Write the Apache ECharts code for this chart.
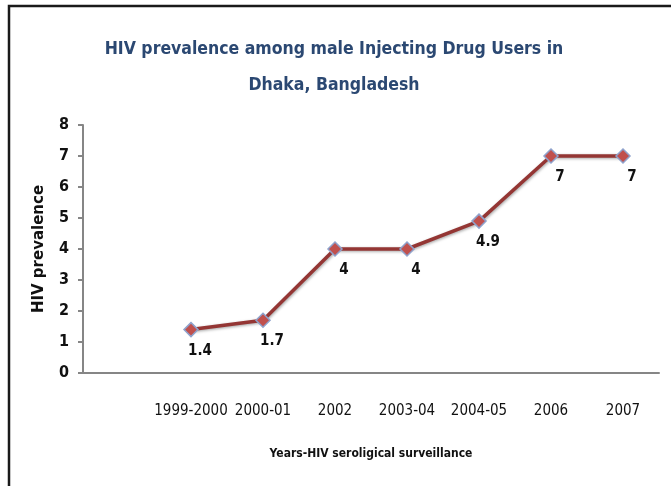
<!DOCTYPE html>
<html>
<head>
<meta charset="utf-8">
<script src="https://cdn.jsdelivr.net/npm/echarts@6/dist/echarts.min.js"></script>
<style>
  html, body { margin: 0; padding: 0; background: #fff; }
  #chart { width: 671px; height: 486px; }
</style>
</head>
<body>
<div id="chart"></div>
<script>
// first slot is blank in the original sheet, so the line starts one step in
const categories = ['', '1999-2000', '2000-01', '2002', '2003-04', '2004-05', '2006', '2007'];
const prevalence = [null, 1.4, 1.7, 4, 4, 4.9, 7, 7];
const yTicks = [0, 1, 2, 3, 4, 5, 6, 7, 8];

const narrow = "'Liberation Sans Narrow', 'DejaVu Sans Condensed', sans-serif";

const chartObj = echarts.init(document.getElementById('chart'));
let option = {
  animation: false,
  backgroundColor: '#fff',
  title: {
    text: 'HIV prevalence among male Injecting Drug Users in\nDhaka, Bangladesh',
    left: 329,
    top: 26,
    textAlign: 'center',
    textStyle: {
      color: '#2b4872',
      fontFamily: narrow,
      fontWeight: 'bold',
      fontSize: 17.5,
      lineHeight: 36
    }
  },
  grid: {
    left: 83,
    top: 125,
    width: 576,
    height: 248
  },
  xAxis: {
    type: 'category',
    data: categories,
    boundaryGap: true,
    name: 'Years-HIV seroligical surveillance',
    nameLocation: 'middle',
    nameGap: 75,
    nameTextStyle: {
      color: '#111',
      fontFamily: narrow,
      fontWeight: 'bold',
      fontSize: 12
    },
    axisLine: { lineStyle: { color: '#868686', width: 2 } },
    axisTick: { show: false },
    axisLabel: {
      interval: 0,
      margin: 31,
      color: '#111',
      fontFamily: narrow,
      fontSize: 15
    }
  },
  yAxis: {
    type: 'value',
    min: yTicks[0],
    max: yTicks[yTicks.length - 1],
    interval: 1,
    name: 'HIV prevalence',
    nameLocation: 'middle',
    nameRotate: 90,
    nameGap: 36,
    nameTextStyle: {
      color: '#111',
      fontFamily: "'DejaVu Sans', sans-serif",
      fontWeight: 'bold',
      fontSize: 15
    },
    splitLine: { show: false },
    axisLine: { show: true, lineStyle: { color: '#868686', width: 2 } },
    axisTick: { show: true, length: 5, lineStyle: { color: '#868686', width: 2 } },
    axisLabel: {
      margin: 14,
      color: '#111',
      fontFamily: narrow,
      fontWeight: 'bold',
      fontSize: 16
    }
  },
  series: [{
    type: 'line',
    data: prevalence,
    symbol: 'diamond',
    symbolSize: 14,
    lineStyle: {
      color: '#943634',
      width: 3.5,
      shadowColor: 'rgba(0,0,0,0.35)',
      shadowBlur: 3,
      shadowOffsetX: 1,
      shadowOffsetY: 1
    },
    itemStyle: {
      color: '#c0504d',
      borderColor: '#8fa2cc',
      borderWidth: 1.5
    },
    label: {
      show: true,
      position: 'bottom',
      distance: 6,
      offset: [9, 0],
      color: '#111',
      fontFamily: narrow,
      fontWeight: 'bold',
      fontSize: 15
    }
  }],
  graphic: [{
    // chart frame, only top and left edges are inside the picture
    type: 'rect',
    shape: { x: 9, y: 6, width: 720, height: 540 },
    style: { fill: null, stroke: '#1a1a1a', lineWidth: 2.5 },
    silent: true
  }]
};
chartObj.setOption(option, true);
</script>
</body>
</html>
